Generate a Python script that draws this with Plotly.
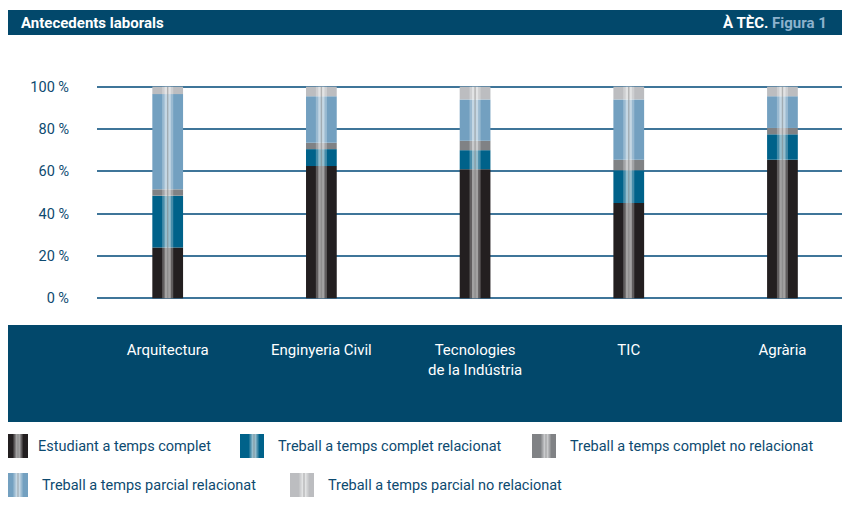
import plotly.graph_objects as go

categories = ["Arquitectura", "Enginyeria Civil", "Tecnologies<br>de la Indústria", "TIC", "Agrària"]
series_names = [
    "Estudiant a temps complet",
    "Treball a temps complet relacionat",
    "Treball a temps complet no relacionat",
    "Treball a temps parcial relacionat",
    "Treball a temps parcial no relacionat",
]
estudiant = [24, 62.5, 61, 45, 65.5]
complet_rel = [24.5, 8, 9, 15.5, 12]
complet_norel = [3, 3, 4.5, 5, 3]
parcial_rel = [45, 22, 19.5, 28.5, 15]
parcial_norel = [3.5, 4.5, 6, 6, 4.5]
series_values = [estudiant, complet_rel, complet_norel, parcial_rel, parcial_norel]
tick_values = [0, 20, 40, 60, 80, 100]
tick_labels = [f"{v} %" for v in tick_values]

colors = ["#231f20", "#00628a", "#808285", "#73a0c0", "#bcbdc0"]
DARK = "#02486b"
TEXT = "#0d4a70"
FONT = "Roboto, Liberation Sans, sans-serif"

# the page has an 8px body margin, so the figure is 8px smaller than the window
W, H = 842, 498
ML, MR, MT, MB = 89, 3, 72, 201
PW, PH = W - ML - MR, H - MT - MB


def px(x):  # screen x -> paper
    return (x - 8 - ML) / PW


def py(y):  # screen y -> paper
    return (H - MB - (y - 8)) / PH


fig = go.Figure()
xs = list(range(len(categories)))
bases = [0] * len(categories)
for name, vals, col in zip(series_names, series_values, colors):
    fig.add_trace(go.Bar(x=xs, y=vals, base=list(bases), width=0.2,
                         marker=dict(color=col, line=dict(width=0)), name=name,
                         showlegend=False))
    bases = [b + v for b, v in zip(bases, vals)]

totals = bases
# glossy centre stripe on each bar
for w, c in [(0.072, "rgba(255,255,255,0.28)"), (0.04, "rgba(255,255,255,0.42)"),
             (0.009, "rgba(120,120,120,0.45)")]:
    fig.add_trace(go.Bar(x=xs, y=totals, base=0, width=w,
                         marker=dict(color=c, line=dict(width=0)), hoverinfo="skip",
                         showlegend=False))

shapes = []
# header band and bottom band
shapes.append(dict(type="rect", xref="paper", yref="paper", x0=px(8), x1=px(845),
                   y0=py(35), y1=py(10), fillcolor=DARK, line=dict(width=0), layer="below"))
shapes.append(dict(type="rect", xref="paper", yref="paper", x0=px(8), x1=px(845),
                   y0=py(422), y1=py(325), fillcolor=DARK, line=dict(width=0), layer="below"))

annotations = [
    dict(text="<b>Antecedents laborals</b>", xref="paper", yref="paper", x=px(19), y=py(22.5),
         xanchor="left", yanchor="middle", showarrow=False,
         font=dict(family=FONT, size=15, color="white")),
    dict(text="<b>À TÈC.</b> <span style='color:#8db2cd'><b>Figura 1</b></span>", xref="paper",
         yref="paper", x=px(829), y=py(22.5), xanchor="right", yanchor="middle", showarrow=False,
         font=dict(family=FONT, size=15, color="white")),
]

# legend (manual, to match the reference layout)
legend_pos = [(4, 434, 36), (240, 434, 276), (532, 434, 568), (4, 473, 40), (290, 473, 326)]
for (sx, sy, tx), name, col in zip(legend_pos, series_names, colors):
    shapes.append(dict(type="rect", xref="paper", yref="paper", x0=px(sx), x1=px(sx + 24),
                       y0=py(sy + 24), y1=py(sy), fillcolor=col, line=dict(width=0)))
    cx = sx + 14
    for sw, c in [(9, "rgba(255,255,255,0.28)"), (5, "rgba(255,255,255,0.42)"),
                  (1.2, "rgba(120,120,120,0.45)")]:
        shapes.append(dict(type="rect", xref="paper", yref="paper", x0=px(cx - sw / 2),
                           x1=px(cx + sw / 2), y0=py(sy + 24), y1=py(sy), fillcolor=c,
                           line=dict(width=0)))
    annotations.append(dict(text=name, xref="paper", yref="paper", x=px(tx), y=py(sy + 12),
                            xanchor="left", yanchor="middle", showarrow=False,
                            font=dict(family=FONT, size=14.5, color=TEXT)))

fig.update_layout(
    width=W, height=H, margin=dict(l=ML, r=MR, t=MT, b=MB, pad=0),
    paper_bgcolor="white", plot_bgcolor="white", barmode="overlay",
    showlegend=False, shapes=shapes, annotations=annotations,
    font=dict(family=FONT, color=TEXT),
)
fig.update_xaxes(tickmode="array", tickvals=xs, ticktext=categories,
                 range=[-0.46, 4.42], showgrid=False, zeroline=False, showline=False,
                 ticks="", ticklabelstandoff=34,
                 tickfont=dict(family=FONT, size=15, color="white"))
fig.update_yaxes(range=[-3.17, 103.17], tickmode="array", tickvals=tick_values,
                 ticktext=tick_labels,
                 showgrid=True, gridcolor="#3f7599", gridwidth=1.5, zeroline=False,
                 showline=False, ticks="", ticklabelstandoff=27,
                 tickfont=dict(family=FONT, size=14.5, color=TEXT))

fig.write_html("out.html")
